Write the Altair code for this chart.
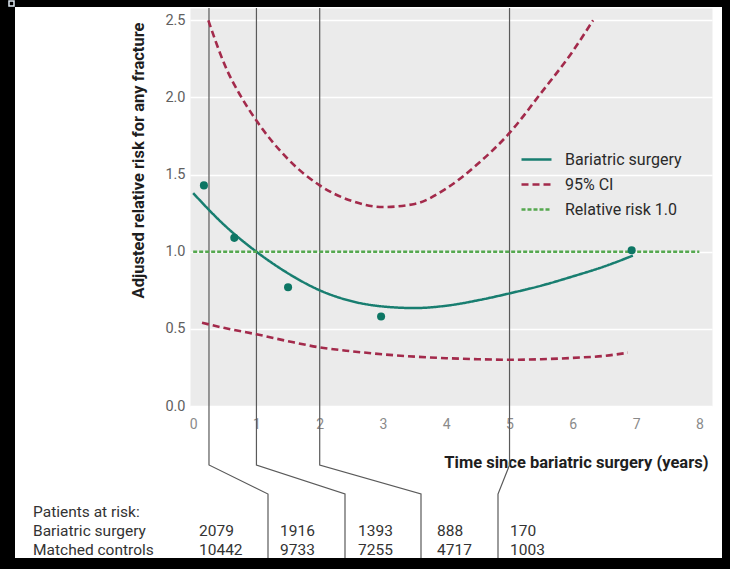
import altair as alt
import pandas as pd

# ---------------- data ----------------
series_order = ["Bariatric surgery", "95% CI", "Relative risk 1.0"]

bar_x = [0, 0.5, 1, 1.5, 2, 2.5, 3, 3.5, 4, 4.5, 5, 5.5, 6, 6.5, 6.95]
bar_y = [1.38, 1.17, 1.0, 0.86, 0.75, 0.68, 0.645, 0.635, 0.65, 0.685, 0.73, 0.78, 0.84, 0.905, 0.975]

ci_up_x = [0.24, 0.35, 0.5, 0.75, 1.0, 1.5, 2.0, 2.5, 3.0, 3.5, 4.0, 4.5, 5.0, 5.5, 6.0, 6.32]
ci_up_y = [2.5, 2.37, 2.21, 2.01, 1.85, 1.6, 1.43, 1.33, 1.29, 1.31, 1.41, 1.57, 1.77, 2.03, 2.3, 2.5]

ci_lo_x = [0.14, 0.5, 1.0, 1.5, 2.0, 2.5, 3.0, 3.5, 4.0, 4.5, 5.0, 5.5, 6.0, 6.5, 6.87]
ci_lo_y = [0.54, 0.505, 0.465, 0.42, 0.38, 0.355, 0.335, 0.32, 0.31, 0.303, 0.30, 0.303, 0.312, 0.325, 0.345]

ref_x = [0, 8]
ref_y = [1.0, 1.0]

obs_x = [0.17, 0.65, 1.5, 2.97, 6.93]
obs_y = [1.43, 1.09, 0.77, 0.58, 1.01]

x_ticks = [0, 1, 2, 3, 4, 5, 6, 7, 8]
y_ticks = [0, 0.5, 1.0, 1.5, 2.0, 2.5]

connector_times = [0.25, 1, 2, 5]

table_labels = ["Patients at risk:", "Bariatric surgery", "Matched controls"]
at_risk_bariatric = [2079, 1916, 1393, 888, 170]
at_risk_controls = [10442, 9733, 7255, 4717, 1003]

# ---------------- layout ----------------
PAD_L, PAD_T, PAD_R, PAD_B = 190, 8, 18, 163
W, H = 522, 398
XD = [-0.05, 8.2]
YD = [0, 2.58]

def px_x(px):
    return XD[0] + (px - PAD_L) / W * (XD[1] - XD[0])

def px_y(py):
    return YD[1] - (py - PAD_T) / H * (YD[1] - YD[0])

connector_bottom_px = [268, 345, 421, 498]
connector_bend_top_px = 465
connector_bend_bot_px = 494
panel_bottom_px = 558
col_left_px = [199, 280, 358, 437, 510]
row_y_px = [512, 531, 550]
label_left_px = 33

TEAL = "#187e70"
PT = "#0d7664"
CRIMSON = "#a32a4b"
GREEN = "#55a84f"
FONT = "Roboto"

xs = alt.Scale(domain=XD, nice=False, zero=False)
ys = alt.Scale(domain=YD, nice=False, zero=False)

# ---------------- lines ----------------
rows = []
for s, part, xv, yv in [
    ("Bariatric surgery", "b", bar_x, bar_y),
    ("95% CI", "up", ci_up_x, ci_up_y),
    ("95% CI", "lo", ci_lo_x, ci_lo_y),
    ("Relative risk 1.0", "ref", ref_x, ref_y),
]:
    for i, (a, b) in enumerate(zip(xv, yv)):
        rows.append({"series": s, "part": part, "x": a, "y": b, "i": i})
lines_df = pd.DataFrame(rows)

leg = dict(
    orient="none", legendX=330, legendY=135, title=None,
    labelFont=FONT, labelFontSize=16, labelColor="#2a2a2a",
    symbolType="stroke", symbolSize=900, labelOffset=12, rowPadding=0,
)

lines = alt.Chart(lines_df).mark_line(interpolate="monotone").encode(
    x=alt.X("x:Q", scale=xs,
            axis=alt.Axis(values=x_ticks, format="d", grid=False, domain=False, ticks=False,
                          labelFont=FONT, labelFontSize=14, labelColor="#8a8a8a", labelPadding=11,
                          title="Time since bariatric surgery (years)", titleFont=FONT,
                          titleFontSize=16.5, titleFontWeight="bold", titleColor="#1e1e1e",
                          titleX=518, titleY=56, titleAlign="right", titleBaseline="middle")),
    y=alt.Y("y:Q", scale=ys,
            axis=alt.Axis(values=y_ticks, format=".1f", grid=True, gridColor="white", gridWidth=1.5,
                          domain=False, ticks=False, labelFont=FONT, labelFontSize=14.5,
                          labelColor="#606060", labelPadding=5,
                          title="Adjusted relative risk for any fracture", titleFont=FONT,
                          titleFontSize=16.5, titleFontWeight="bold", titleColor="#1e1e1e",
                          titleAngle=270, titleX=-52, titleY=152, titleAlign="center",
                          titleBaseline="middle")),
    color=alt.Color("series:N", scale=alt.Scale(domain=series_order, range=[TEAL, CRIMSON, GREEN]),
                    legend=alt.Legend(**leg)),
    strokeDash=alt.StrokeDash("series:N", scale=alt.Scale(domain=series_order, range=[[1, 0], [7, 4], [4, 2]]),
                              legend=alt.Legend(**leg)),
    strokeWidth=alt.StrokeWidth("series:N", scale=alt.Scale(domain=series_order, range=[2.5, 2.7, 1.6]),
                                legend=alt.Legend(**leg)),
    detail="part:N",
    order="i:Q",
)

points = alt.Chart(pd.DataFrame({"x": obs_x, "y": obs_y})).mark_circle(size=65, opacity=1, color=PT).encode(
    x=alt.X("x:Q", scale=xs), y=alt.Y("y:Q", scale=ys)
)

# ---------------- connectors ----------------
crow = []
for k, (t, bpx) in enumerate(zip(connector_times, connector_bottom_px)):
    pts = [(t, YD[1]), (t, px_y(connector_bend_top_px)),
           (px_x(bpx), px_y(connector_bend_bot_px)), (px_x(bpx), px_y(panel_bottom_px))]
    for i, (a, b) in enumerate(pts):
        crow.append({"c": k, "i": i, "x": a, "y": b})
connectors = alt.Chart(pd.DataFrame(crow)).mark_line(color="#5a5a5a", strokeWidth=1.2).encode(
    x=alt.X("x:Q", scale=xs), y=alt.Y("y:Q", scale=ys), detail="c:N", order="i:Q"
)

# ---------------- table ----------------
lab_df = pd.DataFrame({"t": table_labels, "x": [px_x(label_left_px)] * 3, "y": [px_y(v) for v in row_y_px]})
labels = alt.Chart(lab_df).mark_text(align="left", baseline="middle", font=FONT, fontSize=15.5, color="#333").encode(
    x=alt.X("x:Q", scale=xs), y=alt.Y("y:Q", scale=ys), text="t:N"
)
nrows = []
for vals, ry in [(at_risk_bariatric, row_y_px[1]), (at_risk_controls, row_y_px[2])]:
    for v, cx in zip(vals, col_left_px):
        nrows.append({"t": str(v), "x": px_x(cx), "y": px_y(ry)})
nums = alt.Chart(pd.DataFrame(nrows)).mark_text(align="left", baseline="middle", font=FONT, fontSize=15.5, color="#333").encode(
    x=alt.X("x:Q", scale=xs), y=alt.Y("y:Q", scale=ys), text="t:N"
)

# ---------------- black frame ----------------
one = pd.DataFrame({"k": [0]})
def frame(x1, x2, y1, y2):
    return alt.Chart(one).mark_rect(color="black").encode(
        x=alt.value(x1 - PAD_L), x2=alt.value(x2 - PAD_L), y=alt.value(y1 - PAD_T), y2=alt.value(y2 - PAD_T)
    )
frames = [frame(0, 730, 0, 7), frame(0, 15, 0, 569), frame(722, 730, 0, 569), frame(0, 730, 558, 569)]
marker = alt.Chart(one).mark_rect(fill="black", stroke="#dfe9f2", strokeWidth=1.5).encode(
    x=alt.value(9 - PAD_L), x2=alt.value(14 - PAD_L), y=alt.value(1 - PAD_T), y2=alt.value(6 - PAD_T)
)

chart = alt.layer(connectors, lines, points, labels, nums, *frames, marker).properties(
    width=W, height=H,
    autosize=alt.AutoSizeParams(type="none"),
    padding={"left": PAD_L, "top": PAD_T, "right": PAD_R, "bottom": PAD_B},
    background="white",
).configure_view(fill="#ebebeb", stroke="transparent")

chart.save("out.html", embed_options={"renderer": "svg", "actions": False})
